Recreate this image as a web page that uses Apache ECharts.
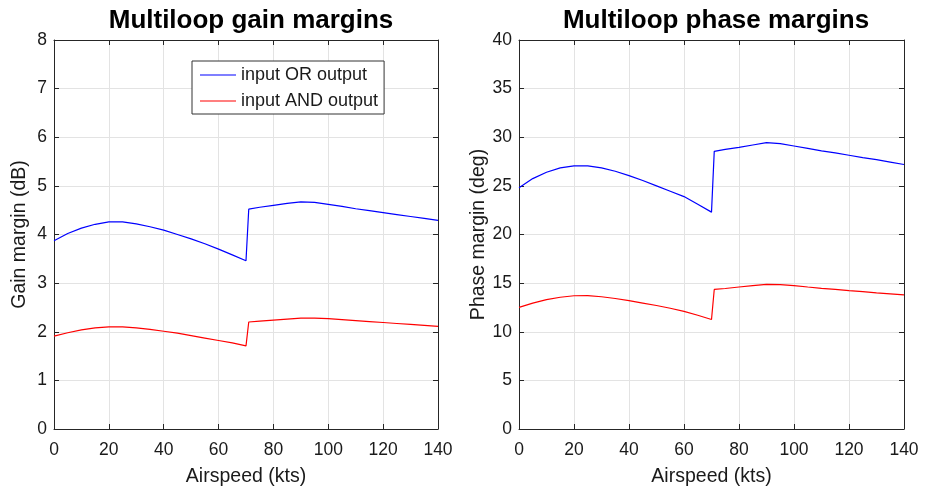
<!DOCTYPE html>
<html>
<head>
<meta charset="utf-8">
<script src="https://cdn.jsdelivr.net/npm/echarts@6/dist/echarts.min.js"></script>
<style>
html,body{margin:0;padding:0;background:#fff;}
#chart{width:933px;height:492px;}
</style>
</head>
<body>
<div id="chart"></div>
<script>
var airspeed = [0,5,10,15,20,25,30,35,40,45,50,55,60,65,70,71,75,80,85,90,95,100,105,110,115,120,125,130,135,140];
var gainOr  = [3.87,4.02,4.13,4.21,4.26,4.26,4.22,4.16,4.09,4.00,3.91,3.81,3.70,3.58,3.46,4.52,4.56,4.60,4.64,4.67,4.66,4.62,4.58,4.53,4.49,4.45,4.41,4.37,4.33,4.29];
var gainAnd = [1.91,1.98,2.04,2.08,2.10,2.10,2.08,2.05,2.01,1.97,1.92,1.87,1.82,1.77,1.71,2.20,2.22,2.24,2.26,2.28,2.28,2.27,2.25,2.23,2.21,2.19,2.17,2.15,2.13,2.11];
var phaseOr  = [24.8,25.75,26.4,26.85,27.05,27.05,26.85,26.5,26.05,25.55,25.0,24.45,23.9,23.1,22.3,28.55,28.75,28.95,29.2,29.45,29.35,29.1,28.85,28.6,28.4,28.15,27.9,27.7,27.45,27.2];
var phaseAnd = [12.5,12.95,13.3,13.55,13.7,13.72,13.6,13.42,13.2,12.95,12.7,12.42,12.1,11.7,11.26,14.35,14.45,14.6,14.75,14.87,14.85,14.75,14.6,14.47,14.35,14.23,14.12,14.0,13.9,13.8];
var seriesNames = ['input OR output','input AND output'];
var titles = ['Multiloop gain margins','Multiloop phase margins'];
var yNames = ['Gain margin (dB)','Phase margin (deg)'];
var xName = 'Airspeed (kts)';

function pairs(xs, ys){ return xs.map(function(x,i){return [x, ys[i]];}); }

var FONT = '"Liberation Sans", Arial, Helvetica, sans-serif';
var AX = '#262626';
var GRIDC = '#e3e3e3';
var TXT = '#1a1a1a';

function xAxes(gi){
  return [{
    type:'value', gridIndex:gi, min:0, max:140, interval:20, position:'bottom',
    name:xName, nameLocation:'middle', nameGap:38,
    nameTextStyle:{fontFamily:FONT,fontSize:19.5,color:TXT},
    axisLine:{show:true,onZero:false,lineStyle:{color:AX,width:1}},
    axisTick:{show:true,inside:true,length:5,lineStyle:{color:AX}},
    axisLabel:{fontFamily:FONT,fontSize:17.5,color:TXT,margin:12},
    splitLine:{show:true,lineStyle:{color:GRIDC,width:1}}
  },{
    type:'value', gridIndex:gi, min:0, max:140, interval:20, position:'top',
    axisLine:{show:true,onZero:false,lineStyle:{color:AX,width:1}},
    axisTick:{show:true,inside:true,length:5,lineStyle:{color:AX}},
    axisLabel:{show:false}, splitLine:{show:false}
  }];
}
function yAxes(gi, max, interval, name){
  return [{
    type:'value', gridIndex:gi, min:0, max:max, interval:interval, position:'left',
    name:name, nameLocation:'middle', nameGap:24, nameRotate:90,
    nameTextStyle:{fontFamily:FONT,fontSize:19.5,color:TXT},
    axisLine:{show:true,onZero:false,lineStyle:{color:AX,width:1}},
    axisTick:{show:true,inside:true,length:5,lineStyle:{color:AX}},
    axisLabel:{fontFamily:FONT,fontSize:17.5,color:TXT,margin:7},
    splitLine:{show:true,lineStyle:{color:GRIDC,width:1}}
  },{
    type:'value', gridIndex:gi, min:0, max:max, interval:interval, position:'right',
    axisLine:{show:true,onZero:false,lineStyle:{color:AX,width:1}},
    axisTick:{show:true,inside:true,length:5,lineStyle:{color:AX}},
    axisLabel:{show:false}, splitLine:{show:false}
  }];
}

var chart = echarts.init(document.getElementById('chart'), null, {renderer:'canvas'});
var option = {
  backgroundColor:'#fff',
  animation:false,
  title:[
    {text:titles[0], left:246, top:3, textAlign:'center', textStyle:{fontFamily:FONT,fontSize:26,fontWeight:'bold',color:'#000'}},
    {text:titles[1], left:711, top:3, textAlign:'center', textStyle:{fontFamily:FONT,fontSize:26,fontWeight:'bold',color:'#000'}}
  ],
  legend:{
    data:seriesNames, orient:'vertical', left:192, top:61,
    backgroundColor:'#fff', borderColor:'#333', borderWidth:1,
    padding:[5,6,4,8], itemGap:8, itemWidth:36, itemHeight:1.2, icon:'rect',
    textStyle:{fontFamily:FONT,fontSize:18,color:TXT}
  },
  grid:[
    {left:54, right:495, top:40, bottom:60},
    {left:519, right:29, top:40, bottom:60}
  ],
  xAxis: xAxes(0).concat(xAxes(1)),
  yAxis: yAxes(0,8,1,yNames[0]).concat(yAxes(1,40,5,yNames[1])),
  series:[
    {name:seriesNames[0], type:'line', xAxisIndex:0, yAxisIndex:0, data:pairs(airspeed,gainOr), symbol:'none', lineStyle:{color:'#0000ff',width:1.2}, itemStyle:{color:'#0000ff'}},
    {name:seriesNames[1], type:'line', xAxisIndex:0, yAxisIndex:0, data:pairs(airspeed,gainAnd), symbol:'none', lineStyle:{color:'#ff0000',width:1.2}, itemStyle:{color:'#ff0000'}},
    {name:seriesNames[0], type:'line', xAxisIndex:2, yAxisIndex:2, data:pairs(airspeed,phaseOr), symbol:'none', lineStyle:{color:'#0000ff',width:1.2}, itemStyle:{color:'#0000ff'}},
    {name:seriesNames[1], type:'line', xAxisIndex:2, yAxisIndex:2, data:pairs(airspeed,phaseAnd), symbol:'none', lineStyle:{color:'#ff0000',width:1.2}, itemStyle:{color:'#ff0000'}}
  ]
};
chart.setOption(option);
</script>
</body>
</html>
